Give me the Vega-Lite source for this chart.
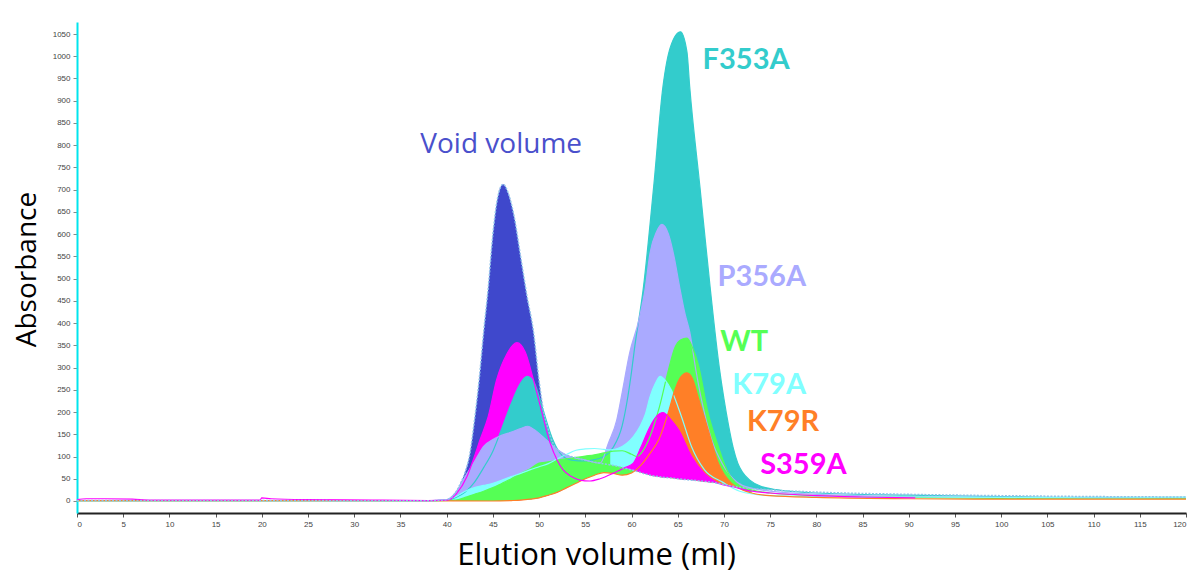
{
"$schema": "https://vega.github.io/schema/vega-lite/v6.json",
"width": 1109, "height": 491,
"autosize": "none",
"padding": {"left": 77, "top": 22, "right": 8, "bottom": 62},
"background": "white",
"config": {"view": {"stroke": null}},
"datasets": {
"curves": [
{"s":"Void volume","v":0,"a":1},{"s":"Void volume","v":20,"a":1},{"s":"Void volume","v":38,"a":0.5},{"s":"Void volume","v":40,"a":3},{"s":"Void volume","v":41,"a":20},{"s":"Void volume","v":41.5,"a":40},{"s":"Void volume","v":42,"a":65},{"s":"Void volume","v":42.5,"a":105},{"s":"Void volume","v":43,"a":180},{"s":"Void volume","v":43.5,"a":270},{"s":"Void volume","v":44,"a":380},{"s":"Void volume","v":44.5,"a":480},{"s":"Void volume","v":45,"a":600},{"s":"Void volume","v":45.5,"a":680},{"s":"Void volume","v":46.1,"a":712},{"s":"Void volume","v":46.7,"a":690},{"s":"Void volume","v":47.3,"a":640},{"s":"Void volume","v":48,"a":550},{"s":"Void volume","v":48.7,"a":460},{"s":"Void volume","v":49.4,"a":380},{"s":"Void volume","v":50,"a":270},{"s":"Void volume","v":50.5,"a":200},{"s":"Void volume","v":51,"a":160},{"s":"Void volume","v":51.5,"a":130},{"s":"Void volume","v":52.3,"a":110},{"s":"Void volume","v":54,"a":97},{"s":"Void volume","v":56.6,"a":85},{"s":"Void volume","v":58,"a":80},{"s":"Void volume","v":60,"a":70},{"s":"Void volume","v":62,"a":58},{"s":"Void volume","v":65,"a":50},{"s":"Void volume","v":69,"a":41},{"s":"Void volume","v":71,"a":33},{"s":"Void volume","v":73,"a":28},{"s":"Void volume","v":75,"a":25},{"s":"Void volume","v":80,"a":20},{"s":"Void volume","v":90,"a":15},{"s":"Void volume","v":100,"a":12},{"s":"Void volume","v":110,"a":10},{"s":"Void volume","v":120,"a":9},
{"s":"F353A","v":0,"a":1},{"s":"F353A","v":20,"a":1},{"s":"F353A","v":38,"a":0.5},{"s":"F353A","v":40,"a":2},{"s":"F353A","v":41,"a":8},{"s":"F353A","v":42,"a":20},{"s":"F353A","v":43,"a":42},{"s":"F353A","v":44,"a":75},{"s":"F353A","v":45,"a":112},{"s":"F353A","v":46,"a":165},{"s":"F353A","v":47,"a":220},{"s":"F353A","v":48,"a":265},{"s":"F353A","v":48.7,"a":280},{"s":"F353A","v":49.5,"a":265},{"s":"F353A","v":50.5,"a":200},{"s":"F353A","v":51.5,"a":137},{"s":"F353A","v":52.5,"a":102},{"s":"F353A","v":53.5,"a":92},{"s":"F353A","v":55,"a":90},{"s":"F353A","v":56,"a":93},{"s":"F353A","v":57,"a":100},{"s":"F353A","v":58,"a":120},{"s":"F353A","v":59,"a":170},{"s":"F353A","v":60,"a":290},{"s":"F353A","v":60.3,"a":339},{"s":"F353A","v":61.3,"a":482},{"s":"F353A","v":62.4,"a":707},{"s":"F353A","v":63.4,"a":931},{"s":"F353A","v":64.2,"a":1020},{"s":"F353A","v":65.3,"a":1055},{"s":"F353A","v":66,"a":1010},{"s":"F353A","v":66.3,"a":931},{"s":"F353A","v":67.4,"a":707},{"s":"F353A","v":68.5,"a":482},{"s":"F353A","v":69.5,"a":300},{"s":"F353A","v":70,"a":230},{"s":"F353A","v":70.5,"a":170},{"s":"F353A","v":71,"a":120},{"s":"F353A","v":71.5,"a":85},{"s":"F353A","v":72,"a":65},{"s":"F353A","v":72.8,"a":47},{"s":"F353A","v":74,"a":33},{"s":"F353A","v":75,"a":28},{"s":"F353A","v":77,"a":22},{"s":"F353A","v":80,"a":18},{"s":"F353A","v":90,"a":13},{"s":"F353A","v":100,"a":10},{"s":"F353A","v":110,"a":8},{"s":"F353A","v":120,"a":8},
{"s":"P356A","v":0,"a":1},{"s":"P356A","v":20,"a":1},{"s":"P356A","v":38,"a":0.5},{"s":"P356A","v":40,"a":3},{"s":"P356A","v":41,"a":20},{"s":"P356A","v":42,"a":55},{"s":"P356A","v":43,"a":88},{"s":"P356A","v":44,"a":123},{"s":"P356A","v":45,"a":138},{"s":"P356A","v":46,"a":148},{"s":"P356A","v":47,"a":155},{"s":"P356A","v":48,"a":163},{"s":"P356A","v":48.8,"a":168},{"s":"P356A","v":49.5,"a":160},{"s":"P356A","v":50.8,"a":137},{"s":"P356A","v":52,"a":115},{"s":"P356A","v":53,"a":103},{"s":"P356A","v":55,"a":92},{"s":"P356A","v":56.6,"a":85},{"s":"P356A","v":57.5,"a":130},{"s":"P356A","v":58.4,"a":182},{"s":"P356A","v":59,"a":245},{"s":"P356A","v":59.8,"a":333},{"s":"P356A","v":60.8,"a":407},{"s":"P356A","v":61.5,"a":480},{"s":"P356A","v":62,"a":557},{"s":"P356A","v":62.7,"a":605},{"s":"P356A","v":63.3,"a":622},{"s":"P356A","v":64,"a":600},{"s":"P356A","v":64.6,"a":550},{"s":"P356A","v":65.2,"a":482},{"s":"P356A","v":65.8,"a":420},{"s":"P356A","v":66.3,"a":380},{"s":"P356A","v":67,"a":290},{"s":"P356A","v":67.9,"a":197},{"s":"P356A","v":68.8,"a":130},{"s":"P356A","v":69.8,"a":85},{"s":"P356A","v":71,"a":50},{"s":"P356A","v":72,"a":35},{"s":"P356A","v":75,"a":22},{"s":"P356A","v":80,"a":15},{"s":"P356A","v":90,"a":10},{"s":"P356A","v":100,"a":8},{"s":"P356A","v":120,"a":6},
{"s":"WT","v":0,"a":1},{"s":"WT","v":20,"a":1},{"s":"WT","v":38,"a":0.5},{"s":"WT","v":41,"a":2},{"s":"WT","v":42,"a":8},{"s":"WT","v":43,"a":15},{"s":"WT","v":44,"a":22},{"s":"WT","v":45,"a":30},{"s":"WT","v":46,"a":40},{"s":"WT","v":47,"a":50},{"s":"WT","v":48,"a":62},{"s":"WT","v":49,"a":72},{"s":"WT","v":50,"a":85},{"s":"WT","v":51,"a":88},{"s":"WT","v":52,"a":92},{"s":"WT","v":53,"a":95},{"s":"WT","v":54,"a":98},{"s":"WT","v":55,"a":101},{"s":"WT","v":56,"a":104},{"s":"WT","v":57,"a":108},{"s":"WT","v":58,"a":112},{"s":"WT","v":59,"a":113},{"s":"WT","v":60,"a":105},{"s":"WT","v":60.6,"a":100},{"s":"WT","v":61.3,"a":115},{"s":"WT","v":62,"a":145},{"s":"WT","v":63,"a":210},{"s":"WT","v":64,"a":295},{"s":"WT","v":64.7,"a":345},{"s":"WT","v":65.3,"a":362},{"s":"WT","v":66,"a":366},{"s":"WT","v":66.6,"a":345},{"s":"WT","v":67.2,"a":309},{"s":"WT","v":68.3,"a":197},{"s":"WT","v":69.4,"a":122},{"s":"WT","v":70.5,"a":62},{"s":"WT","v":71.6,"a":36},{"s":"WT","v":73,"a":25},{"s":"WT","v":75,"a":18},{"s":"WT","v":80,"a":12},{"s":"WT","v":90,"a":8},{"s":"WT","v":100,"a":6},{"s":"WT","v":120,"a":5},
{"s":"K79A","v":0,"a":1},{"s":"K79A","v":20,"a":1},{"s":"K79A","v":38,"a":0.5},{"s":"K79A","v":40,"a":3},{"s":"K79A","v":41,"a":10},{"s":"K79A","v":42,"a":22},{"s":"K79A","v":43,"a":30},{"s":"K79A","v":44,"a":35},{"s":"K79A","v":45,"a":40},{"s":"K79A","v":46,"a":47},{"s":"K79A","v":47,"a":55},{"s":"K79A","v":48,"a":62},{"s":"K79A","v":49,"a":70},{"s":"K79A","v":50,"a":77},{"s":"K79A","v":51,"a":84},{"s":"K79A","v":52,"a":95},{"s":"K79A","v":53,"a":105},{"s":"K79A","v":54,"a":114},{"s":"K79A","v":55,"a":117},{"s":"K79A","v":56,"a":118},{"s":"K79A","v":57,"a":116},{"s":"K79A","v":57.7,"a":115},{"s":"K79A","v":58.5,"a":118},{"s":"K79A","v":59.5,"a":130},{"s":"K79A","v":60.2,"a":145},{"s":"K79A","v":60.9,"a":167},{"s":"K79A","v":61.5,"a":195},{"s":"K79A","v":62,"a":234},{"s":"K79A","v":62.6,"a":265},{"s":"K79A","v":63.1,"a":280},{"s":"K79A","v":63.7,"a":270},{"s":"K79A","v":64.3,"a":250},{"s":"K79A","v":65.4,"a":190},{"s":"K79A","v":66.5,"a":122},{"s":"K79A","v":67.9,"a":70},{"s":"K79A","v":69.8,"a":43},{"s":"K79A","v":71.7,"a":22},{"s":"K79A","v":75,"a":12},{"s":"K79A","v":80,"a":10},{"s":"K79A","v":90,"a":9},{"s":"K79A","v":100,"a":8},{"s":"K79A","v":110,"a":7},{"s":"K79A","v":120,"a":8},
{"s":"K79R","v":0,"a":1},{"s":"K79R","v":20,"a":1},{"s":"K79R","v":38,"a":0.5},{"s":"K79R","v":45,"a":0},{"s":"K79R","v":47,"a":1},{"s":"K79R","v":48,"a":2},{"s":"K79R","v":49,"a":4},{"s":"K79R","v":50,"a":7},{"s":"K79R","v":51,"a":13},{"s":"K79R","v":52,"a":20},{"s":"K79R","v":53,"a":30},{"s":"K79R","v":54,"a":40},{"s":"K79R","v":55,"a":50},{"s":"K79R","v":56,"a":58},{"s":"K79R","v":57,"a":64},{"s":"K79R","v":58,"a":62},{"s":"K79R","v":59,"a":58},{"s":"K79R","v":60,"a":63},{"s":"K79R","v":61,"a":80},{"s":"K79R","v":62,"a":107},{"s":"K79R","v":63,"a":140},{"s":"K79R","v":64,"a":200},{"s":"K79R","v":64.7,"a":250},{"s":"K79R","v":65.3,"a":278},{"s":"K79R","v":66,"a":288},{"s":"K79R","v":66.6,"a":275},{"s":"K79R","v":67.2,"a":234},{"s":"K79R","v":68.3,"a":160},{"s":"K79R","v":69.4,"a":85},{"s":"K79R","v":70.8,"a":40},{"s":"K79R","v":72,"a":25},{"s":"K79R","v":73,"a":18},{"s":"K79R","v":75,"a":12},{"s":"K79R","v":80,"a":8},{"s":"K79R","v":90,"a":5},{"s":"K79R","v":100,"a":4},{"s":"K79R","v":120,"a":4},
{"s":"S359A","v":0,"a":3},{"s":"S359A","v":1,"a":5},{"s":"S359A","v":3,"a":5},{"s":"S359A","v":6,"a":4},{"s":"S359A","v":8,"a":2},{"s":"S359A","v":19.8,"a":2},{"s":"S359A","v":20,"a":7},{"s":"S359A","v":21,"a":5},{"s":"S359A","v":25,"a":3},{"s":"S359A","v":32,"a":2},{"s":"S359A","v":38,"a":1},{"s":"S359A","v":40,"a":2},{"s":"S359A","v":40.5,"a":5},{"s":"S359A","v":41,"a":15},{"s":"S359A","v":42.2,"a":55},{"s":"S359A","v":43,"a":100},{"s":"S359A","v":43.6,"a":137},{"s":"S359A","v":44.5,"a":190},{"s":"S359A","v":45.4,"a":272},{"s":"S359A","v":46.5,"a":330},{"s":"S359A","v":47.6,"a":356},{"s":"S359A","v":48.5,"a":335},{"s":"S359A","v":49.4,"a":272},{"s":"S359A","v":50.3,"a":200},{"s":"S359A","v":51.2,"a":130},{"s":"S359A","v":52,"a":90},{"s":"S359A","v":52.6,"a":70},{"s":"S359A","v":53.5,"a":55},{"s":"S359A","v":54.4,"a":47},{"s":"S359A","v":55.5,"a":45},{"s":"S359A","v":56.6,"a":50},{"s":"S359A","v":58,"a":62},{"s":"S359A","v":58.8,"a":70},{"s":"S359A","v":59.3,"a":75},{"s":"S359A","v":60.2,"a":85},{"s":"S359A","v":61,"a":120},{"s":"S359A","v":62,"a":167},{"s":"S359A","v":62.7,"a":190},{"s":"S359A","v":63.4,"a":199},{"s":"S359A","v":64.3,"a":182},{"s":"S359A","v":65.1,"a":160},{"s":"S359A","v":66.5,"a":100},{"s":"S359A","v":67.9,"a":62},{"s":"S359A","v":69.4,"a":40},{"s":"S359A","v":71,"a":32},{"s":"S359A","v":73,"a":22},{"s":"S359A","v":75,"a":18},{"s":"S359A","v":80,"a":12},{"s":"S359A","v":85,"a":9},{"s":"S359A","v":90.7,"a":7}
],
"fills": [
{"k":"void1","s":"Void volume","v":40,"a":3,"b":0},{"k":"void1","s":"Void volume","v":41,"a":20,"b":0},{"k":"void1","s":"Void volume","v":41.5,"a":40,"b":0},{"k":"void1","s":"Void volume","v":42,"a":65,"b":0},{"k":"void1","s":"Void volume","v":42.5,"a":105,"b":0},{"k":"void1","s":"Void volume","v":43,"a":180,"b":0},{"k":"void1","s":"Void volume","v":43.5,"a":270,"b":0},{"k":"void1","s":"Void volume","v":44,"a":380,"b":0},{"k":"void1","s":"Void volume","v":44.5,"a":480,"b":0},{"k":"void1","s":"Void volume","v":45,"a":600,"b":0},{"k":"void1","s":"Void volume","v":45.5,"a":680,"b":0},{"k":"void1","s":"Void volume","v":46.1,"a":712,"b":0},{"k":"void1","s":"Void volume","v":46.7,"a":690,"b":0},{"k":"void1","s":"Void volume","v":47.3,"a":640,"b":1},{"k":"void1","s":"Void volume","v":48,"a":550,"b":2},{"k":"void1","s":"Void volume","v":48.7,"a":460,"b":3},{"k":"void1","s":"Void volume","v":49.4,"a":380,"b":5},{"k":"void1","s":"Void volume","v":50,"a":270,"b":7},{"k":"void1","s":"Void volume","v":50.5,"a":200,"b":10},{"k":"void1","s":"Void volume","v":51,"a":160,"b":13},{"k":"void1","s":"Void volume","v":51.5,"a":130,"b":16},{"k":"void1","s":"Void volume","v":52.3,"a":110,"b":22},
{"k":"mag1","s":"S359A","v":40,"a":2,"b":0},{"k":"mag1","s":"S359A","v":40.5,"a":5,"b":0},{"k":"mag1","s":"S359A","v":41,"a":15,"b":0},{"k":"mag1","s":"S359A","v":42.2,"a":55,"b":0},{"k":"mag1","s":"S359A","v":43,"a":100,"b":0},{"k":"mag1","s":"S359A","v":43.6,"a":137,"b":0},{"k":"mag1","s":"S359A","v":44.5,"a":190,"b":0},{"k":"mag1","s":"S359A","v":45.4,"a":272,"b":0},{"k":"mag1","s":"S359A","v":46.5,"a":330,"b":0},{"k":"mag1","s":"S359A","v":47.6,"a":356,"b":1},{"k":"mag1","s":"S359A","v":48.5,"a":335,"b":3},{"k":"mag1","s":"S359A","v":49.4,"a":272,"b":5},{"k":"mag1","s":"S359A","v":50.3,"a":200,"b":9},{"k":"mag1","s":"S359A","v":51.2,"a":130,"b":14},{"k":"mag1","s":"S359A","v":52,"a":90,"b":20},{"k":"mag1","s":"S359A","v":52.6,"a":70,"b":25},
{"k":"teal1","s":"F353A","v":40,"a":2,"b":0},{"k":"teal1","s":"F353A","v":41,"a":8,"b":0},{"k":"teal1","s":"F353A","v":42,"a":20,"b":0},{"k":"teal1","s":"F353A","v":43,"a":42,"b":0},{"k":"teal1","s":"F353A","v":44,"a":75,"b":0},{"k":"teal1","s":"F353A","v":45,"a":112,"b":0},{"k":"teal1","s":"F353A","v":46,"a":165,"b":0},{"k":"teal1","s":"F353A","v":47,"a":220,"b":1},{"k":"teal1","s":"F353A","v":48,"a":265,"b":2},{"k":"teal1","s":"F353A","v":48.7,"a":280,"b":3},{"k":"teal1","s":"F353A","v":49.5,"a":265,"b":5},{"k":"teal1","s":"F353A","v":50.5,"a":200,"b":10},{"k":"teal1","s":"F353A","v":51.5,"a":137,"b":16},{"k":"teal1","s":"F353A","v":52.5,"a":102,"b":24},{"k":"teal1","s":"F353A","v":53.5,"a":92,"b":35},
{"k":"lav1","s":"P356A","v":40,"a":3,"b":0},{"k":"lav1","s":"P356A","v":41,"a":20,"b":0},{"k":"lav1","s":"P356A","v":42,"a":55,"b":0},{"k":"lav1","s":"P356A","v":43,"a":88,"b":0},{"k":"lav1","s":"P356A","v":44,"a":123,"b":0},{"k":"lav1","s":"P356A","v":45,"a":138,"b":0},{"k":"lav1","s":"P356A","v":46,"a":148,"b":0},{"k":"lav1","s":"P356A","v":47,"a":155,"b":1},{"k":"lav1","s":"P356A","v":48,"a":163,"b":2},{"k":"lav1","s":"P356A","v":48.8,"a":168,"b":3},{"k":"lav1","s":"P356A","v":49.5,"a":160,"b":5},{"k":"lav1","s":"P356A","v":50.8,"a":137,"b":12},{"k":"lav1","s":"P356A","v":52,"a":115,"b":20},{"k":"lav1","s":"P356A","v":53,"a":103,"b":30},{"k":"lav1","s":"P356A","v":55,"a":92,"b":50},
{"k":"cyan1","s":"K79A","v":40,"a":3,"b":0},{"k":"cyan1","s":"K79A","v":41,"a":10,"b":0},{"k":"cyan1","s":"K79A","v":42,"a":22,"b":0},{"k":"cyan1","s":"K79A","v":43,"a":30,"b":0},{"k":"cyan1","s":"K79A","v":44,"a":35,"b":0},{"k":"cyan1","s":"K79A","v":45,"a":40,"b":0},{"k":"cyan1","s":"K79A","v":46,"a":47,"b":0},{"k":"cyan1","s":"K79A","v":47,"a":55,"b":1},{"k":"cyan1","s":"K79A","v":48,"a":62,"b":2},{"k":"cyan1","s":"K79A","v":49,"a":70,"b":4},{"k":"cyan1","s":"K79A","v":50,"a":77,"b":7},{"k":"cyan1","s":"K79A","v":51,"a":84,"b":13},
{"k":"teal2","s":"F353A","v":56,"a":93,"b":88},{"k":"teal2","s":"F353A","v":57,"a":100,"b":83},{"k":"teal2","s":"F353A","v":58,"a":120,"b":80},{"k":"teal2","s":"F353A","v":59,"a":170,"b":75},{"k":"teal2","s":"F353A","v":60,"a":290,"b":70},{"k":"teal2","s":"F353A","v":60.3,"a":339,"b":68},{"k":"teal2","s":"F353A","v":61.3,"a":482,"b":63},{"k":"teal2","s":"F353A","v":62.4,"a":707,"b":57},{"k":"teal2","s":"F353A","v":63.4,"a":931,"b":53},{"k":"teal2","s":"F353A","v":64.2,"a":1020,"b":52},{"k":"teal2","s":"F353A","v":65.3,"a":1055,"b":49},{"k":"teal2","s":"F353A","v":66,"a":1010,"b":48},{"k":"teal2","s":"F353A","v":66.3,"a":931,"b":47},{"k":"teal2","s":"F353A","v":67.4,"a":707,"b":45},{"k":"teal2","s":"F353A","v":68.5,"a":482,"b":42},{"k":"teal2","s":"F353A","v":69.5,"a":300,"b":39},{"k":"teal2","s":"F353A","v":70,"a":230,"b":37},{"k":"teal2","s":"F353A","v":70.5,"a":170,"b":35},{"k":"teal2","s":"F353A","v":71,"a":120,"b":33},{"k":"teal2","s":"F353A","v":71.5,"a":85,"b":32},{"k":"teal2","s":"F353A","v":72,"a":65,"b":30},{"k":"teal2","s":"F353A","v":72.8,"a":47,"b":28},{"k":"teal2","s":"F353A","v":74,"a":33,"b":26},{"k":"teal2","s":"F353A","v":75,"a":28,"b":25},{"k":"teal2","s":"F353A","v":76,"a":25,"b":24},
{"k":"lav2","s":"P356A","v":56.6,"a":85,"b":85},{"k":"lav2","s":"P356A","v":57.5,"a":130,"b":82},{"k":"lav2","s":"P356A","v":58.4,"a":182,"b":78},{"k":"lav2","s":"P356A","v":59,"a":245,"b":75},{"k":"lav2","s":"P356A","v":59.8,"a":333,"b":71},{"k":"lav2","s":"P356A","v":60.8,"a":407,"b":65},{"k":"lav2","s":"P356A","v":61.5,"a":480,"b":61},{"k":"lav2","s":"P356A","v":62,"a":557,"b":58},{"k":"lav2","s":"P356A","v":62.7,"a":605,"b":55},{"k":"lav2","s":"P356A","v":63.3,"a":622,"b":54},{"k":"lav2","s":"P356A","v":64,"a":600,"b":52},{"k":"lav2","s":"P356A","v":64.6,"a":550,"b":51},{"k":"lav2","s":"P356A","v":65.2,"a":482,"b":50},{"k":"lav2","s":"P356A","v":65.8,"a":420,"b":48},{"k":"lav2","s":"P356A","v":66.3,"a":380,"b":47},{"k":"lav2","s":"P356A","v":67,"a":290,"b":46},{"k":"lav2","s":"P356A","v":67.9,"a":197,"b":43},{"k":"lav2","s":"P356A","v":68.8,"a":130,"b":41},{"k":"lav2","s":"P356A","v":69.8,"a":85,"b":38},{"k":"lav2","s":"P356A","v":71,"a":50,"b":33},{"k":"lav2","s":"P356A","v":72,"a":35,"b":30},{"k":"lav2","s":"P356A","v":73,"a":28,"b":28},
{"k":"green","s":"WT","v":41,"a":2,"b":0},{"k":"green","s":"WT","v":42,"a":8,"b":0},{"k":"green","s":"WT","v":43,"a":15,"b":0},{"k":"green","s":"WT","v":44,"a":22,"b":0},{"k":"green","s":"WT","v":45,"a":30,"b":0},{"k":"green","s":"WT","v":46,"a":40,"b":0},{"k":"green","s":"WT","v":47,"a":50,"b":1},{"k":"green","s":"WT","v":48,"a":62,"b":2},{"k":"green","s":"WT","v":49,"a":72,"b":4},{"k":"green","s":"WT","v":50,"a":85,"b":7},{"k":"green","s":"WT","v":51,"a":88,"b":13},{"k":"green","s":"WT","v":52,"a":92,"b":20},{"k":"green","s":"WT","v":53,"a":95,"b":30},{"k":"green","s":"WT","v":54,"a":98,"b":40},{"k":"green","s":"WT","v":55,"a":101,"b":50},{"k":"green","s":"WT","v":56,"a":104,"b":58},{"k":"green","s":"WT","v":57,"a":108,"b":64},{"k":"green","s":"WT","v":58,"a":112,"b":62},{"k":"green","s":"WT","v":59,"a":113,"b":58},{"k":"green","s":"WT","v":60,"a":105,"b":63},{"k":"green","s":"WT","v":60.6,"a":100,"b":73},{"k":"green","s":"WT","v":61.3,"a":115,"b":88},{"k":"green","s":"WT","v":62,"a":145,"b":107},{"k":"green","s":"WT","v":63,"a":210,"b":140},{"k":"green","s":"WT","v":64,"a":295,"b":200},{"k":"green","s":"WT","v":64.7,"a":345,"b":250},{"k":"green","s":"WT","v":65.3,"a":362,"b":278},{"k":"green","s":"WT","v":66,"a":366,"b":288},{"k":"green","s":"WT","v":66.6,"a":345,"b":275},{"k":"green","s":"WT","v":67.2,"a":309,"b":234},{"k":"green","s":"WT","v":68.3,"a":197,"b":160},{"k":"green","s":"WT","v":69.4,"a":122,"b":85},{"k":"green","s":"WT","v":70.5,"a":62,"b":45},{"k":"green","s":"WT","v":71.6,"a":36,"b":30},{"k":"green","s":"WT","v":73,"a":25,"b":18},
{"k":"cyan2","s":"K79A","v":57.7,"a":115,"b":82},{"k":"cyan2","s":"K79A","v":58.5,"a":118,"b":78},{"k":"cyan2","s":"K79A","v":59.5,"a":130,"b":73},{"k":"cyan2","s":"K79A","v":60.2,"a":145,"b":69},{"k":"cyan2","s":"K79A","v":60.9,"a":167,"b":65},{"k":"cyan2","s":"K79A","v":61.5,"a":195,"b":61},{"k":"cyan2","s":"K79A","v":62,"a":234,"b":58},{"k":"cyan2","s":"K79A","v":62.6,"a":265,"b":56},{"k":"cyan2","s":"K79A","v":63.1,"a":280,"b":54},{"k":"cyan2","s":"K79A","v":63.7,"a":270,"b":52},{"k":"cyan2","s":"K79A","v":64.3,"a":250,"b":52},{"k":"cyan2","s":"K79A","v":65.4,"a":190,"b":50},{"k":"cyan2","s":"K79A","v":66.5,"a":122,"b":47},{"k":"cyan2","s":"K79A","v":67.9,"a":70,"b":43},{"k":"cyan2","s":"K79A","v":69.8,"a":43,"b":38},{"k":"cyan2","s":"K79A","v":71,"a":30,"b":33},
{"k":"orange2","s":"K79R","v":60.5,"a":70,"b":67},{"k":"orange2","s":"K79R","v":61,"a":80,"b":64},{"k":"orange2","s":"K79R","v":62,"a":107,"b":58},{"k":"orange2","s":"K79R","v":63,"a":140,"b":54},{"k":"orange2","s":"K79R","v":64,"a":200,"b":52},{"k":"orange2","s":"K79R","v":64.7,"a":250,"b":50},{"k":"orange2","s":"K79R","v":65.3,"a":278,"b":49},{"k":"orange2","s":"K79R","v":66,"a":288,"b":48},{"k":"orange2","s":"K79R","v":66.6,"a":275,"b":47},{"k":"orange2","s":"K79R","v":67.2,"a":234,"b":45},{"k":"orange2","s":"K79R","v":68.3,"a":160,"b":42},{"k":"orange2","s":"K79R","v":69.4,"a":85,"b":40},{"k":"orange2","s":"K79R","v":70.8,"a":40,"b":34},{"k":"orange2","s":"K79R","v":71.5,"a":32,"b":32},
{"k":"mag2","s":"S359A","v":59.3,"a":75,"b":74},{"k":"mag2","s":"S359A","v":60.2,"a":85,"b":69},{"k":"mag2","s":"S359A","v":61,"a":120,"b":64},{"k":"mag2","s":"S359A","v":62,"a":167,"b":58},{"k":"mag2","s":"S359A","v":62.7,"a":190,"b":55},{"k":"mag2","s":"S359A","v":63.4,"a":199,"b":53},{"k":"mag2","s":"S359A","v":64.3,"a":182,"b":52},{"k":"mag2","s":"S359A","v":65.1,"a":160,"b":49},{"k":"mag2","s":"S359A","v":66.5,"a":100,"b":47},{"k":"mag2","s":"S359A","v":67.9,"a":62,"b":43},{"k":"mag2","s":"S359A","v":69.4,"a":40,"b":40}
],
"labels": [
{"t":"Void volume","s":"Void volume","v":45.9,"a":800},
{"t":"F353A","s":"F353A","v":72.4,"a":991},
{"t":"P356A","s":"P356A","v":74.1,"a":504},
{"t":"WT","s":"WT","v":72.2,"a":358},
{"t":"K79A","s":"K79A","v":74.9,"a":261},
{"t":"K79R","s":"K79R","v":76.4,"a":178},
{"t":"S359A","s":"S359A","v":78.6,"a":81}
]
},
"encoding": {
"x": {"field":"v","type":"quantitative","scale":{"domain":[0,120],"nice":false,"zero":false},
  "axis":{"values":[0,5,10,15,20,25,30,35,40,45,50,55,60,65,70,75,80,85,90,95,100,105,110,115,120],"format":"d","grid":false,"domainColor":"#222","domainWidth":2,"tickColor":"#555","tickSize":4,"labelFontSize":8,"labelColor":"#444","labelFont":"Liberation Sans","labelPadding":3,"title":"Elution volume (ml)","titleFont":"Open Sans","titleFontSize":31,"titleFontWeight":"normal","titleColor":"#000","titleX":519,"titleY":51,"titleBaseline":"alphabetic","titleAlign":"center"}},
"y": {"field":"a","type":"quantitative","scale":{"domain":[-27,1077],"nice":false,"zero":false},
  "axis":{"values":[0,50,100,150,200,250,300,350,400,450,500,550,600,650,700,750,800,850,900,950,1000,1050],"format":"d","grid":false,"domainColor":"#00E5EE","domainWidth":2,"tickColor":"#888","tickSize":4,"labelFontSize":8,"labelColor":"#444","labelFont":"Liberation Sans","labelPadding":3,"title":"Absorbance","titleFont":"Open Sans","titleFontSize":28,"titleFontWeight":"normal","titleColor":"#000","titleX":-42,"titleY":247,"titleAngle":-90,"titleBaseline":"alphabetic","titleAlign":"center"}},
"color": {"field":"s","type":"nominal","legend":null,"scale":{"domain":["Void volume","F353A","P356A","WT","K79A","K79R","S359A"],"range":["#3F48CC","#33CCCC","#AAAAFF","#55FF55","#80FFFF","#FF7F27","#FF00FF"]}}
},
"layer": [
{"data":{"name":"fills"},"transform":[{"filter":"datum.k=='void1'"}],"mark":{"type":"area","interpolate":"monotone"},"encoding":{"y2":{"field":"b"}}},
{"data":{"name":"fills"},"transform":[{"filter":"datum.k=='mag1'"}],"mark":{"type":"area","interpolate":"monotone"},"encoding":{"y2":{"field":"b"}}},
{"data":{"name":"fills"},"transform":[{"filter":"datum.k=='teal1'"}],"mark":{"type":"area","interpolate":"monotone"},"encoding":{"y2":{"field":"b"}}},
{"data":{"name":"fills"},"transform":[{"filter":"datum.k=='lav1'"}],"mark":{"type":"area","interpolate":"monotone"},"encoding":{"y2":{"field":"b"}}},
{"data":{"name":"fills"},"transform":[{"filter":"datum.k=='cyan1'"}],"mark":{"type":"area","interpolate":"monotone"},"encoding":{"y2":{"field":"b"}}},
{"data":{"name":"fills"},"transform":[{"filter":"datum.k=='teal2'"}],"mark":{"type":"area","interpolate":"monotone"},"encoding":{"y2":{"field":"b"}}},
{"data":{"name":"fills"},"transform":[{"filter":"datum.k=='lav2'"}],"mark":{"type":"area","interpolate":"monotone"},"encoding":{"y2":{"field":"b"}}},
{"data":{"name":"fills"},"transform":[{"filter":"datum.k=='green'"}],"mark":{"type":"area","interpolate":"monotone"},"encoding":{"y2":{"field":"b"}}},
{"data":{"name":"fills"},"transform":[{"filter":"datum.k=='cyan2'"}],"mark":{"type":"area","interpolate":"monotone"},"encoding":{"y2":{"field":"b"}}},
{"data":{"name":"fills"},"transform":[{"filter":"datum.k=='orange2'"}],"mark":{"type":"area","interpolate":"monotone"},"encoding":{"y2":{"field":"b"}}},
{"data":{"name":"fills"},"transform":[{"filter":"datum.k=='mag2'"}],"mark":{"type":"area","interpolate":"monotone"},"encoding":{"y2":{"field":"b"}}},
{"data":{"name":"curves"},"transform":[{"filter":"datum.s!='Void volume'"}],"mark":{"type":"line","interpolate":"monotone","strokeWidth":1.2}},
{"data":{"name":"curves"},"transform":[{"filter":"datum.s=='Void volume'"}],"mark":{"type":"line","interpolate":"monotone","strokeWidth":1.5,"strokeDash":[2,1.5],"color":"#8FC3EA"},"encoding":{"color":{"value":"#8FC3EA"}}},
{"data":{"name":"labels"},"transform":[{"filter":"datum.s=='Void volume'"}],"mark":{"type":"text","font":"Open Sans","fontSize":28,"fontWeight":"normal","align":"center","baseline":"middle"},"encoding":{"text":{"field":"t"},"color":{"value":"#4A50CC"}}},
{"data":{"name":"labels"},"transform":[{"filter":"datum.s!='Void volume'"}],"mark":{"type":"text","font":"Lato","fontSize":29,"fontWeight":"bold","align":"center","baseline":"middle"},"encoding":{"text":{"field":"t"}}},
{"data":{"values":[{"u":"mAU"}]},"mark":{"type":"text","fontSize":8,"font":"Liberation Sans","align":"center","baseline":"middle","dy":-8,"color":"#555"},"encoding":{"x":{"datum":0},"y":{"datum":1077},"text":{"field":"u"},"color":{"value":"#555"}}},
{"data":{"values":[{"u":"ml"}]},"mark":{"type":"text","fontSize":8,"font":"Liberation Sans","align":"left","baseline":"middle","dx":3,"dy":-3,"color":"#555"},"encoding":{"x":{"datum":120},"y":{"datum":-27},"text":{"field":"u"},"color":{"value":"#555"}}}
]
}
